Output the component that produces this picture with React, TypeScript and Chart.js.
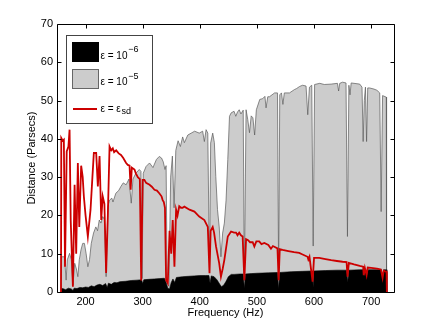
import React, { useEffect, useRef } from "react";
import { Chart, registerables } from "chart.js";

Chart.register(...registerables);

const FONT = "'Liberation Sans', Arial, Helvetica, sans-serif";

// x tick labels (Hz) and y tick labels (parsecs)
const xTickValues = [200, 300, 400, 500, 600, 700];
const yTickValues = [0, 10, 20, 30, 40, 50, 60, 70];

// epsilon = epsilon_sd (red line)
const redFreq = [
  157, 157.5, 160, 162, 164, 167, 170, 172, 174, 177.8,
  180.8, 183.6, 186.5, 189, 192.3, 195, 197, 200, 204, 208.7,
  212, 214.5, 218.6, 221.5, 224.5, 227.4, 230, 233, 236, 239,
  242, 245, 247.7, 250, 253.6, 258, 262, 266, 271, 274,
  277, 279, 281, 285.7, 288, 291.5, 295, 297.4, 300, 303,
  306, 312, 316, 320.6, 325, 329, 333, 335, 337, 339,
  341, 344, 347, 350, 352.6, 355.6, 358.5, 361, 364, 367,
  370, 373, 382, 390.6, 399, 408, 414, 417, 419, 422.6,
  425, 428.4, 434, 437, 440, 443, 449, 454.7, 460, 463.5,
  466, 469, 472, 475, 478, 481, 484, 488, 492.6, 495.5,
  499, 504, 508, 513, 520, 524.6, 528, 536, 538, 540,
  545, 555, 565, 574, 580, 588.7, 590, 592, 597.5, 600,
  609, 620, 630, 640, 650, 657, 658.6, 661, 670, 680,
  686, 687, 689, 692, 694, 700, 710, 717, 720, 722,
  725.6, 727, 727.5,
];
const redVals = [
  0, 40.2, 39.5, 39.8, 6.6, 36.7, 38, 42.4, 18.8, 1.4,
  28, 10, 33.7, 17, 33, 30, 25, 20, 14.5, 21.5,
  30, 36.3, 36.3, 27.6, 35.5, 18.8, 25, 23, 5, 20,
  38, 37, 37.5, 36.5, 37, 36.2, 35.8, 35, 33.7, 33.2,
  33, 26.7, 32.5, 32, 31, 30, 29.5, 3, 29.3, 29.3,
  28.5, 28, 27.5, 26.7, 26.5, 25.8, 25, 24, 23.5, 22,
  3.1, 2.3, 16, 10, 18.8, 6.6, 21.5, 20, 22.4, 22,
  22, 22.3, 21.5, 21, 19.7, 18.8, 17, 4.9, 16, 17,
  15.5, 11.9, 7.5, 4, 6, 8.4, 14.5, 15.8, 15.5, 15.5,
  14.8, 15.5, 14.8, 14.5, 3.1, 13.8, 13.6, 13, 13, 11.9,
  13.2, 13.2, 12.5, 12.8, 12.3, 11.3, 12, 11.4, 3.1, 11.2,
  11, 10.7, 10.4, 10.2, 9.8, 9.2, 8.5, 9.2, 2.7, 8.9,
  8.9, 8.6, 8.3, 8.1, 7.9, 7.8, 4, 7.6, 7.2, 6.8,
  6.6, 4.4, 6.3, 4.4, 6.4, 6.3, 6.1, 5.9, 3.7, 5.6,
  5.3, 5.3, 0,
];

// epsilon = 1e-5 (grey area)
const greyFreq = [
  157, 158, 163, 166, 168, 172, 175, 178, 181, 184,
  186.5, 189, 192, 195, 198, 201, 204, 207, 210, 214,
  218, 221, 224, 227, 230, 233, 236, 239, 242, 246,
  248, 253, 258, 262, 266, 271, 276, 280, 283, 288,
  294, 297, 299, 301, 306, 312, 318, 324, 329, 333,
  336, 339, 341, 343, 346, 349, 352, 355, 358, 362,
  366, 370, 373, 379, 385, 391, 399, 405, 408, 411,
  414, 417, 419, 422.6, 425.5, 428, 431, 434, 437, 440,
  443, 446, 449, 452, 455, 460, 463, 466, 469, 472,
  476, 478, 481, 484, 487, 490, 493, 496, 499, 505,
  510, 514, 516, 519, 522, 531, 536, 538, 540, 543,
  545.5, 548, 557, 566, 569, 575, 580, 586, 589, 592,
  596, 598.5, 601, 610, 618, 630, 641, 643, 645, 650,
  656, 658.5, 661, 663, 665, 680, 684, 686, 688, 690,
  692, 694, 697, 705, 710, 715, 717.5, 720, 726.5, 727,
];
const greyVals = [
  0, 9.2, 9.2, 3.1, 8.4, 10.1, 8.5, 1.8, 7.5, 6,
  4, 8.4, 11, 12.7, 12.7, 10, 6.6, 8.5, 12.7, 15.4,
  17, 16, 18.8, 18, 19.7, 19, 4, 22.3, 24, 24.5,
  23.5, 25.8, 26.5, 27.6, 28.5, 28, 29.5, 23.2, 29.5, 31,
  32, 31.5, 3.5, 31, 32.8, 33.7, 32.5, 34.6, 35.4, 35,
  34, 32, 33, 2, 1.5, 30, 35.5, 22, 37, 39.5,
  38, 40.5, 39, 41, 41.5, 42, 41.5, 42, 39.3, 42.4,
  41.5, 5, 38.9, 41.5, 39, 30.2, 21.5, 17, 9.2, 15.4,
  18, 24, 34.6, 45.9, 46.8, 47.2, 45.9, 47, 47.6, 46.5,
  47.5, 3, 47.6, 45, 41.6, 46, 45.5, 41, 47.6, 50.3,
  50.5, 51.1, 48.1, 51, 51, 52, 52, 4, 51.5, 52,
  49, 52, 52, 52.9, 53.1, 53.7, 54, 53.8, 46.3, 53.5,
  54, 12, 54.2, 54.5, 54.2, 54.3, 54.5, 52.5, 54.5, 54.8,
  54.6, 14.5, 54, 51.5, 54.6, 54.3, 53.5, 39.3, 50, 53.5,
  39.3, 53.3, 53.3, 53, 52.7, 52, 21, 51.3, 50.9, 0,
];

// epsilon = 1e-6 (black area)
const blackFreq = [
  157, 160, 165, 170, 175, 178, 180, 185, 190, 195,
  200, 205, 210, 215, 220, 225, 230, 235, 238, 240,
  245, 250, 255, 260, 270, 280, 290, 298, 300, 302,
  310, 320, 330, 338, 341, 344, 347, 350, 353, 356,
  359, 365, 370, 380, 390, 400, 410, 416, 418, 420,
  425, 430, 435, 438, 442, 446, 450, 455, 460, 470,
  476, 478, 480, 490, 500, 520, 536, 538, 540, 560,
  580, 597, 598.5, 600, 620, 640, 657, 659, 661, 680,
  686, 688, 690, 693, 695, 710, 718, 720, 722, 727,
  727.5,
];
const blackVals = [
  0.8, 0.9, 0.6, 1.0, 0.8, 0.4, 1.0, 0.9, 1.2, 1.1,
  1.3, 1.2, 1.6, 1.4, 1.8, 2.0, 1.7, 2.2, 1.2, 2.3,
  2.0, 2.5, 2.4, 2.7, 2.8, 3.0, 3.1, 3.2, 2.2, 3.2,
  3.3, 3.4, 3.5, 3.6, 2.5, 1.0, 0.8, 2.5, 3.4, 2.5,
  3.8, 3.9, 4.0, 4.1, 4.2, 4.3, 4.3, 4.3, 2.3, 4.2,
  4.0, 3.2, 2.0, 1.4, 1.8, 2.8, 4.0, 4.6, 4.6, 4.7,
  4.7, 1.0, 4.7, 4.8, 4.9, 5.0, 5.1, 0.8, 5.1, 5.3,
  5.4, 5.5, 1.2, 5.5, 5.6, 5.7, 5.7, 2.5, 5.7, 5.8,
  5.8, 4.2, 5.8, 4.5, 5.8, 5.8, 5.8, 3.0, 5.8, 5.8,
  0,
];

function toPoints(f: number[], v: number[]) {
  return f.map((x, i) => ({ x, y: v[i] }));
}

const framePlugin = {
  id: "matlabFrame",
  afterDatasetsDraw(chart: any) {
    const { ctx, chartArea: a, scales } = chart;
    const L = Math.round(a.left) + 0.5;
    const R = Math.round(a.right) + 0.5;
    const T = Math.round(a.top) + 0.5;
    const B = Math.round(a.bottom) + 0.5;
    ctx.save();
    ctx.strokeStyle = "#000";
    ctx.lineWidth = 1;
    ctx.beginPath();
    ctx.rect(L, T, R - L, B - T);
    const tl = 4;
    xTickValues.forEach((v) => {
      const px = Math.round(scales.x.getPixelForValue(v)) + 0.5;
      ctx.moveTo(px, B);
      ctx.lineTo(px, B - tl);
      ctx.moveTo(px, T);
      ctx.lineTo(px, T + tl);
    });
    yTickValues.forEach((v) => {
      const py = Math.round(scales.y.getPixelForValue(v)) + 0.5;
      ctx.moveTo(L, py);
      ctx.lineTo(L + tl, py);
      ctx.moveTo(R, py);
      ctx.lineTo(R - tl, py);
    });
    ctx.stroke();
    ctx.restore();
  },
  afterDraw(chart: any) {
    const { ctx } = chart;
    ctx.save();
    // legend box
    ctx.fillStyle = "#fff";
    ctx.fillRect(66.5, 35.5, 86, 88);
    ctx.strokeStyle = "#444";
    ctx.lineWidth = 1;
    ctx.strokeRect(66.5, 35.5, 86, 88);
    // black swatch
    ctx.fillStyle = "#000";
    ctx.fillRect(72, 42, 27, 20);
    // grey swatch
    ctx.fillStyle = "#cccccc";
    ctx.fillRect(72, 69, 27, 20);
    ctx.strokeStyle = "#666";
    ctx.strokeRect(72.5, 69.5, 26, 19);
    // red line
    ctx.strokeStyle = "#cc0000";
    ctx.lineWidth = 2;
    ctx.beginPath();
    ctx.moveTo(73, 109);
    ctx.lineTo(97, 109);
    ctx.stroke();

    ctx.fillStyle = "#000";
    ctx.textBaseline = "alphabetic";
    ctx.textAlign = "left";
    const main = "10px " + FONT;
    const small = "9px " + FONT;
    const entries = [
      { base: "\u03b5 = 10", extra: "\u22126", y: 58.5, dy: -6.5 },
      { base: "\u03b5 = 10", extra: "\u22125", y: 85, dy: -6.5 },
      { base: "\u03b5 = \u03b5", extra: "sd", y: 111.5, dy: 2.5 },
    ];
    entries.forEach((e) => {
      ctx.font = main;
      ctx.fillText(e.base, 100.5, e.y);
      const w = ctx.measureText(e.base).width;
      ctx.font = small;
      ctx.fillText(e.extra, 100.5 + w + 0.8, e.y + e.dy);
    });
    ctx.restore();
  },
};

export default function App() {
  const canvasRef = useRef<HTMLCanvasElement | null>(null);

  useEffect(() => {
    const canvas = canvasRef.current;
    if (!canvas) return;
    const chart = new Chart(canvas, {
      type: "line",
      data: {
        datasets: [
          {
            label: "\u03b5 = \u03b5sd",
            data: toPoints(redFreq, redVals),
            borderColor: "#cc0000",
            borderWidth: 1.8,
            fill: false,
            pointRadius: 0,
            tension: 0,
          },
          {
            label: "\u03b5 = 10^-6",
            data: toPoints(blackFreq, blackVals),
            borderColor: "#000",
            backgroundColor: "#000",
            borderWidth: 0.6,
            fill: "origin",
            pointRadius: 0,
            tension: 0,
          },
          {
            label: "\u03b5 = 10^-5",
            data: toPoints(greyFreq, greyVals),
            borderColor: "#5a5a5a",
            backgroundColor: "#cccccc",
            borderWidth: 0.7,
            fill: "origin",
            pointRadius: 0,
            tension: 0,
          },
        ],
      },
      options: {
        animation: false,
        responsive: false,
        events: [],
        layout: { padding: { top: 24, right: 42, left: 0, bottom: 0 } },
        plugins: {
          legend: { display: false },
          tooltip: { enabled: false },
        },
        scales: {
          x: {
            type: "linear",
            min: 150,
            max: 740,
            grid: { display: false, drawTicks: false },
            border: { display: false },
            afterBuildTicks: (s: any) => {
              s.ticks = xTickValues.map((v) => ({ value: v }));
            },
            afterFit: (s: any) => {
              s.height = 36;
            },
            ticks: {
              color: "#000",
              padding: 3,
              maxRotation: 0,
              font: { family: FONT, size: 11 },
            },
            title: {
              display: true,
              text: "Frequency (Hz)",
              color: "#000",
              font: { family: FONT, size: 11 },
              padding: { top: 0, bottom: 8 },
            },
          },
          y: {
            type: "linear",
            min: 0,
            max: 70,
            grid: { display: false, drawTicks: false },
            border: { display: false },
            afterBuildTicks: (s: any) => {
              s.ticks = yTickValues.map((v) => ({ value: v }));
            },
            afterFit: (s: any) => {
              s.width = 57;
            },
            ticks: {
              color: "#000",
              padding: 4,
              font: { family: FONT, size: 11 },
            },
            title: {
              display: true,
              text: "Distance (Parsecs)",
              color: "#000",
              font: { family: FONT, size: 11 },
              padding: { top: 25, bottom: 0 },
            },
          },
        },
      },
      plugins: [framePlugin],
    });
    return () => chart.destroy();
  }, []);

  return (
    <div style={{ position: "absolute", left: 0, top: 0, width: 436, height: 328, background: "#fff" }}>
      <canvas ref={canvasRef} width={436} height={328} style={{ display: "block" }} />
    </div>
  );
}
